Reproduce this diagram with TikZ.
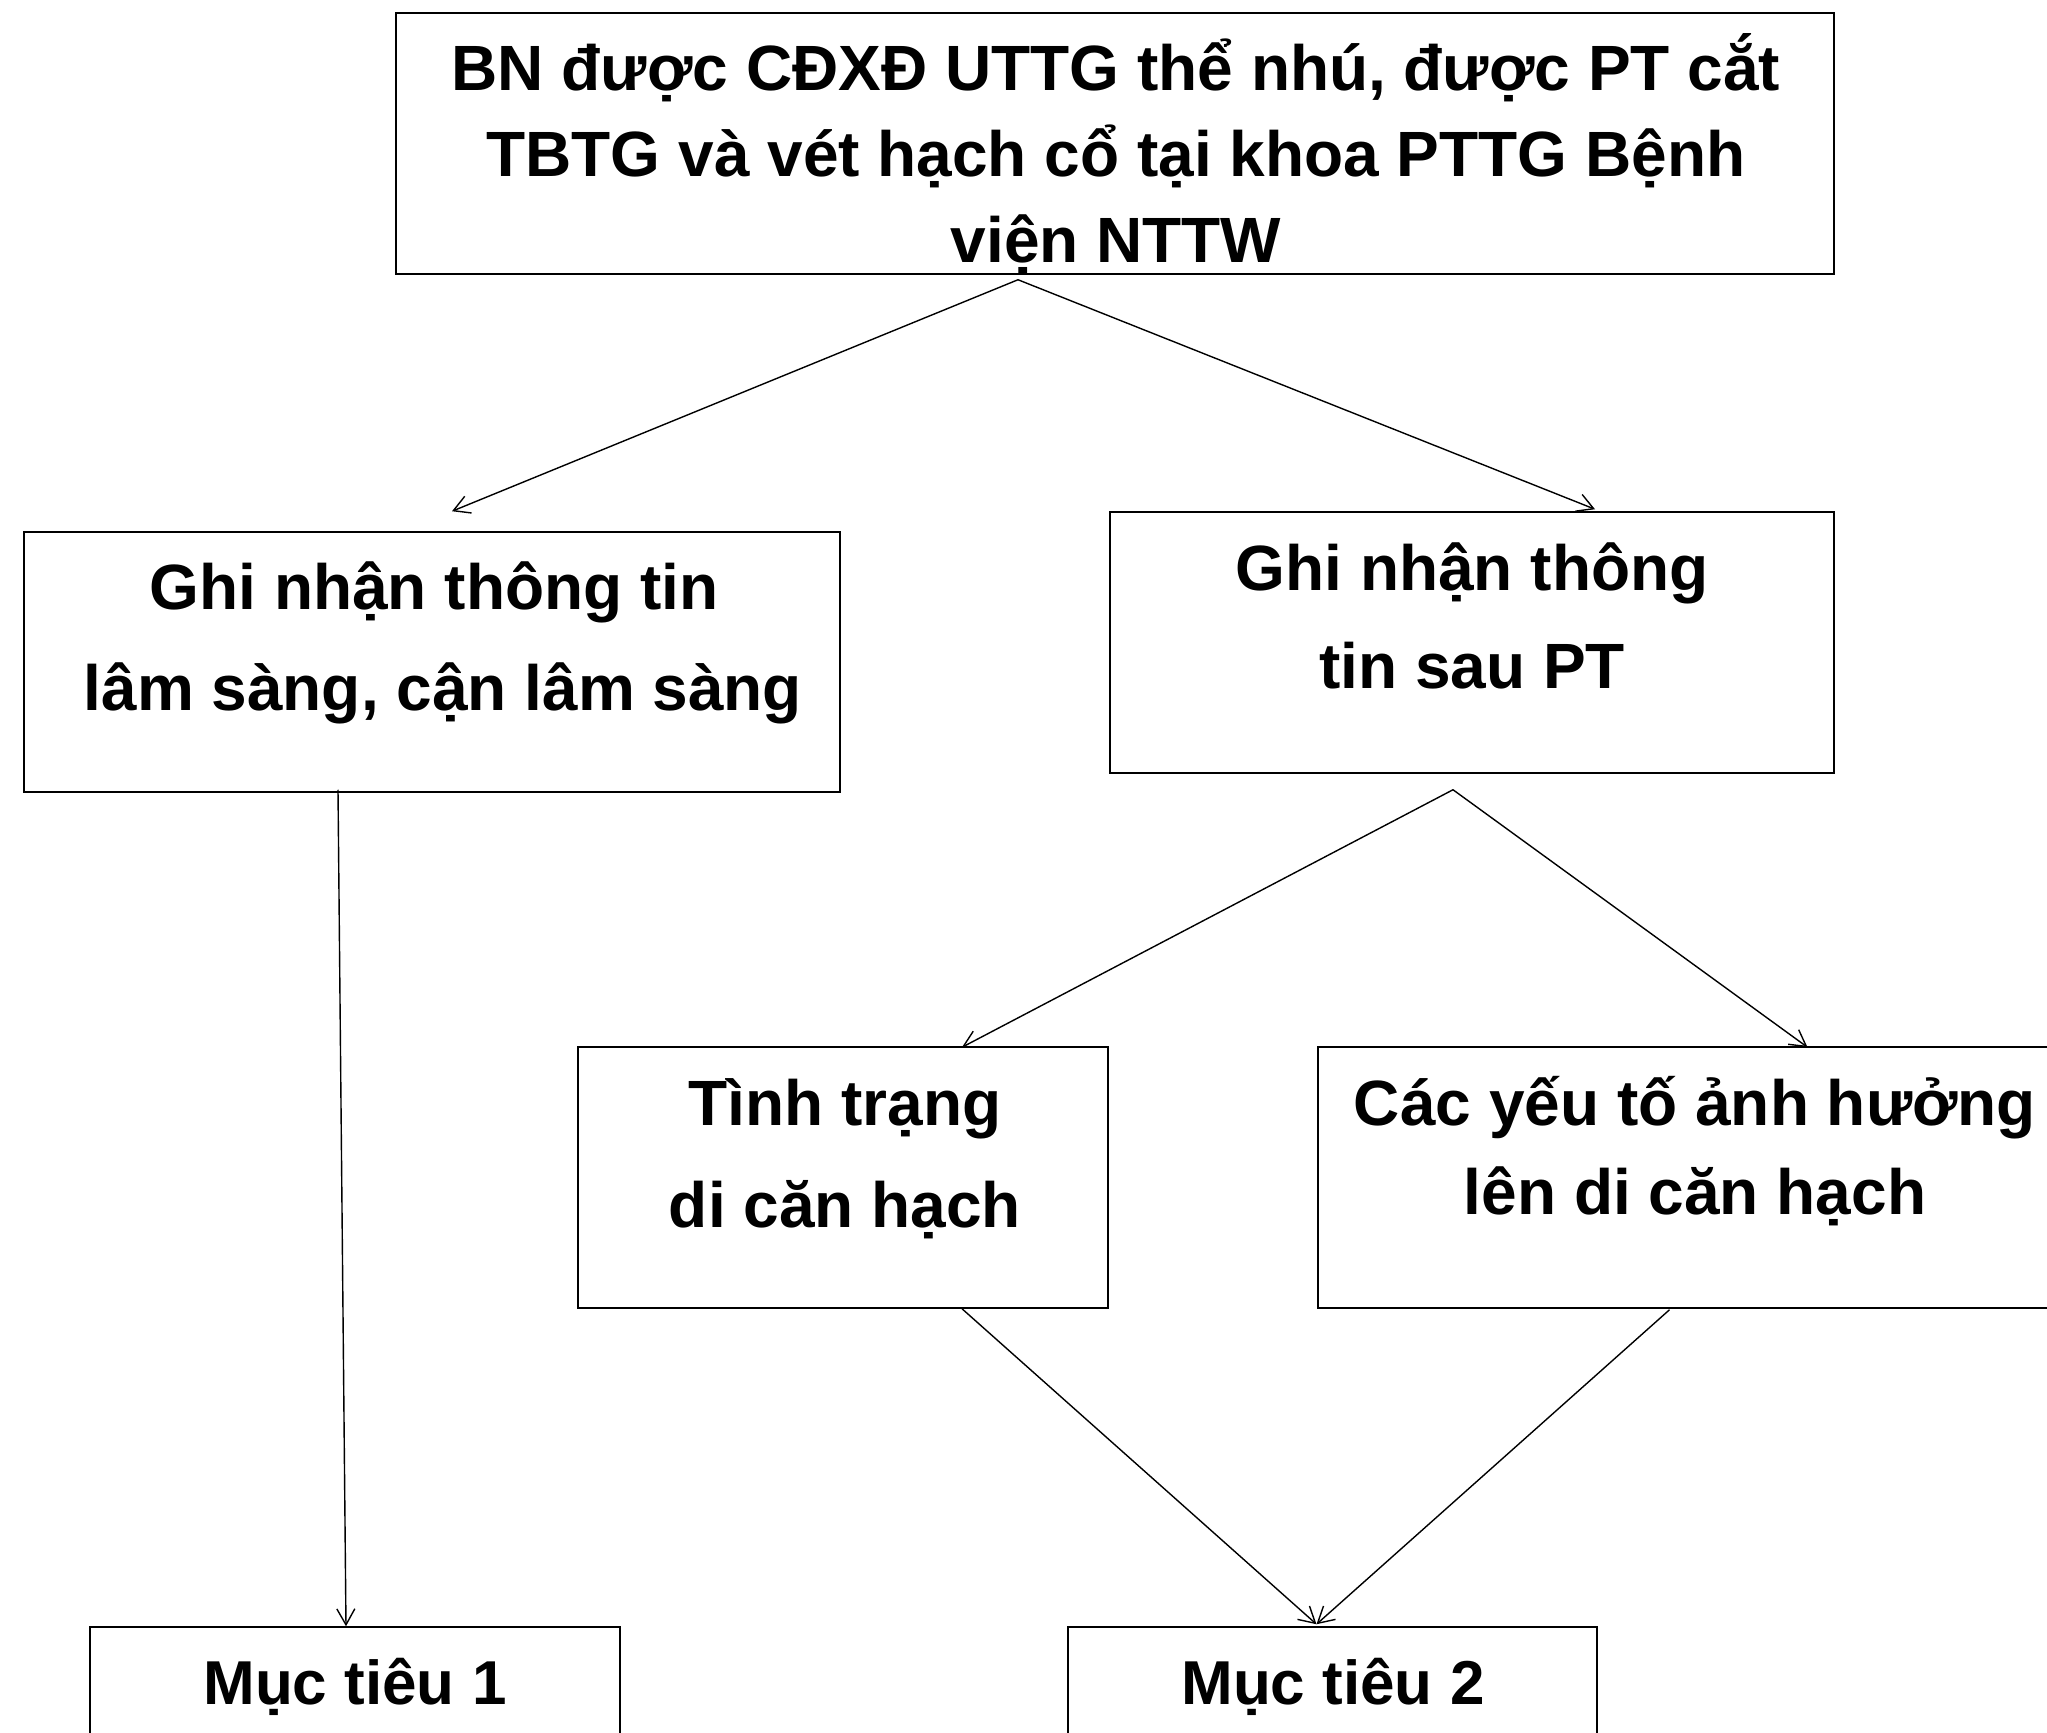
\documentclass[tikz,border=0pt]{standalone}
\usepackage{fontspec}
\setmainfont{Liberation Sans}
\usetikzlibrary{arrows.meta,calc}
\begin{document}
\begin{tikzpicture}[x=0.5pt,y=-0.5pt,
  box/.style={draw, line width=0.75pt, inner sep=0pt, rectangle},
  txt/.style={align=center, inner sep=0pt, anchor=base},
  arr/.style={-{Straight Barb[length=8pt,width=9pt]}, line width=0.7pt}]
\useasboundingbox (0,0) rectangle (2047,1733);
\clip (0,0) rectangle (2047,1733);
% boxes
\node[box, minimum width=719pt, minimum height=130.5pt] (top) at (1115,143.5) {};
\node[box, minimum width=408pt, minimum height=130pt] (left) at (432,662) {};
\node[box, minimum width=362pt, minimum height=130.5pt] (right) at (1472,642.5) {};
\node[box, minimum width=265pt, minimum height=130.5pt] (tt) at (843,1177.5) {};
\node[box, minimum width=378.5pt, minimum height=130.5pt] (cy) at (1696.5,1177.5) {};
\node[box, minimum width=265pt, minimum height=131.5pt] (m1) at (355,1758.5) {};
\node[box, minimum width=264.5pt, minimum height=131.5pt] (m2) at (1332.5,1758.5) {};
% texts (anchor = baseline of the last line)
\node[txt, font={\bfseries\fontsize{32}{43}\selectfont}] (toptxt) at (1116,263)
  {BN được CĐXĐ UTTG thể nhú, được PT cắt\\TBTG và vét hạch cổ tại khoa PTTG Bệnh\\viện NTTW};
\node[txt, font={\bfseries\fontsize{32}{51}\selectfont}] (lefttxt) at (434,711)
  {Ghi nhận thông tin\\\mbox{} lâm sàng, cận lâm sàng};
\node[txt, font={\bfseries\fontsize{32}{49.5}\selectfont}] (righttxt) at (1472,689)
  {Ghi nhận thông\\tin sau PT};
\node[txt, font={\bfseries\fontsize{32}{51}\selectfont}] (tttxt) at (845,1227)
  {Tình trạng\\di căn hạch};
\node[txt, font={\bfseries\fontsize{32}{44.5}\selectfont}] (cytxt) at (1695,1214)
  {Các yếu tố ảnh hưởng\\lên di căn hạch};
\node[txt, font={\bfseries\fontsize{31}{40}\selectfont}] (m1txt) at (355,1704) {Mục tiêu 1};
\node[txt, font={\bfseries\fontsize{31}{40}\selectfont}] (m2txt) at (1333,1704) {Mục tiêu 2};
% connector ends
\coordinate (topout) at ($(top.south)+(-97,5)$);
\coordinate (leftin) at ($(left.north)+(20,-20)$);
\coordinate (rightin) at ($(right.north)+(123,-2)$);
\coordinate (leftout) at ($(left.south)+(-94,-3)$);
\coordinate (m1in) at ($(m1.north)+(-9,0)$);
\coordinate (rightout) at ($(right.south)+(-19,16)$);
\coordinate (ttin) at ($(tt.north)+(119,1)$);
\coordinate (cyin) at ($(cy.north)+(111,1)$);
\coordinate (ttout) at ($(tt.south)+(119,0)$);
\coordinate (cyout) at ($(cy.south)+(-27,1)$);
\coordinate (m2in) at ($(m2.north)+(-16,-2)$);
% connectors
\draw[arr] (topout) -- (leftin);
\draw[arr] (topout) -- (rightin);
\draw[arr] (leftout) -- (m1in);
\draw[arr] (rightout) -- (ttin);
\draw[arr] (rightout) -- (cyin);
\draw[arr] (ttout) -- (m2in);
\draw[arr] (cyout) -- (m2in);
\end{tikzpicture}
\end{document}
